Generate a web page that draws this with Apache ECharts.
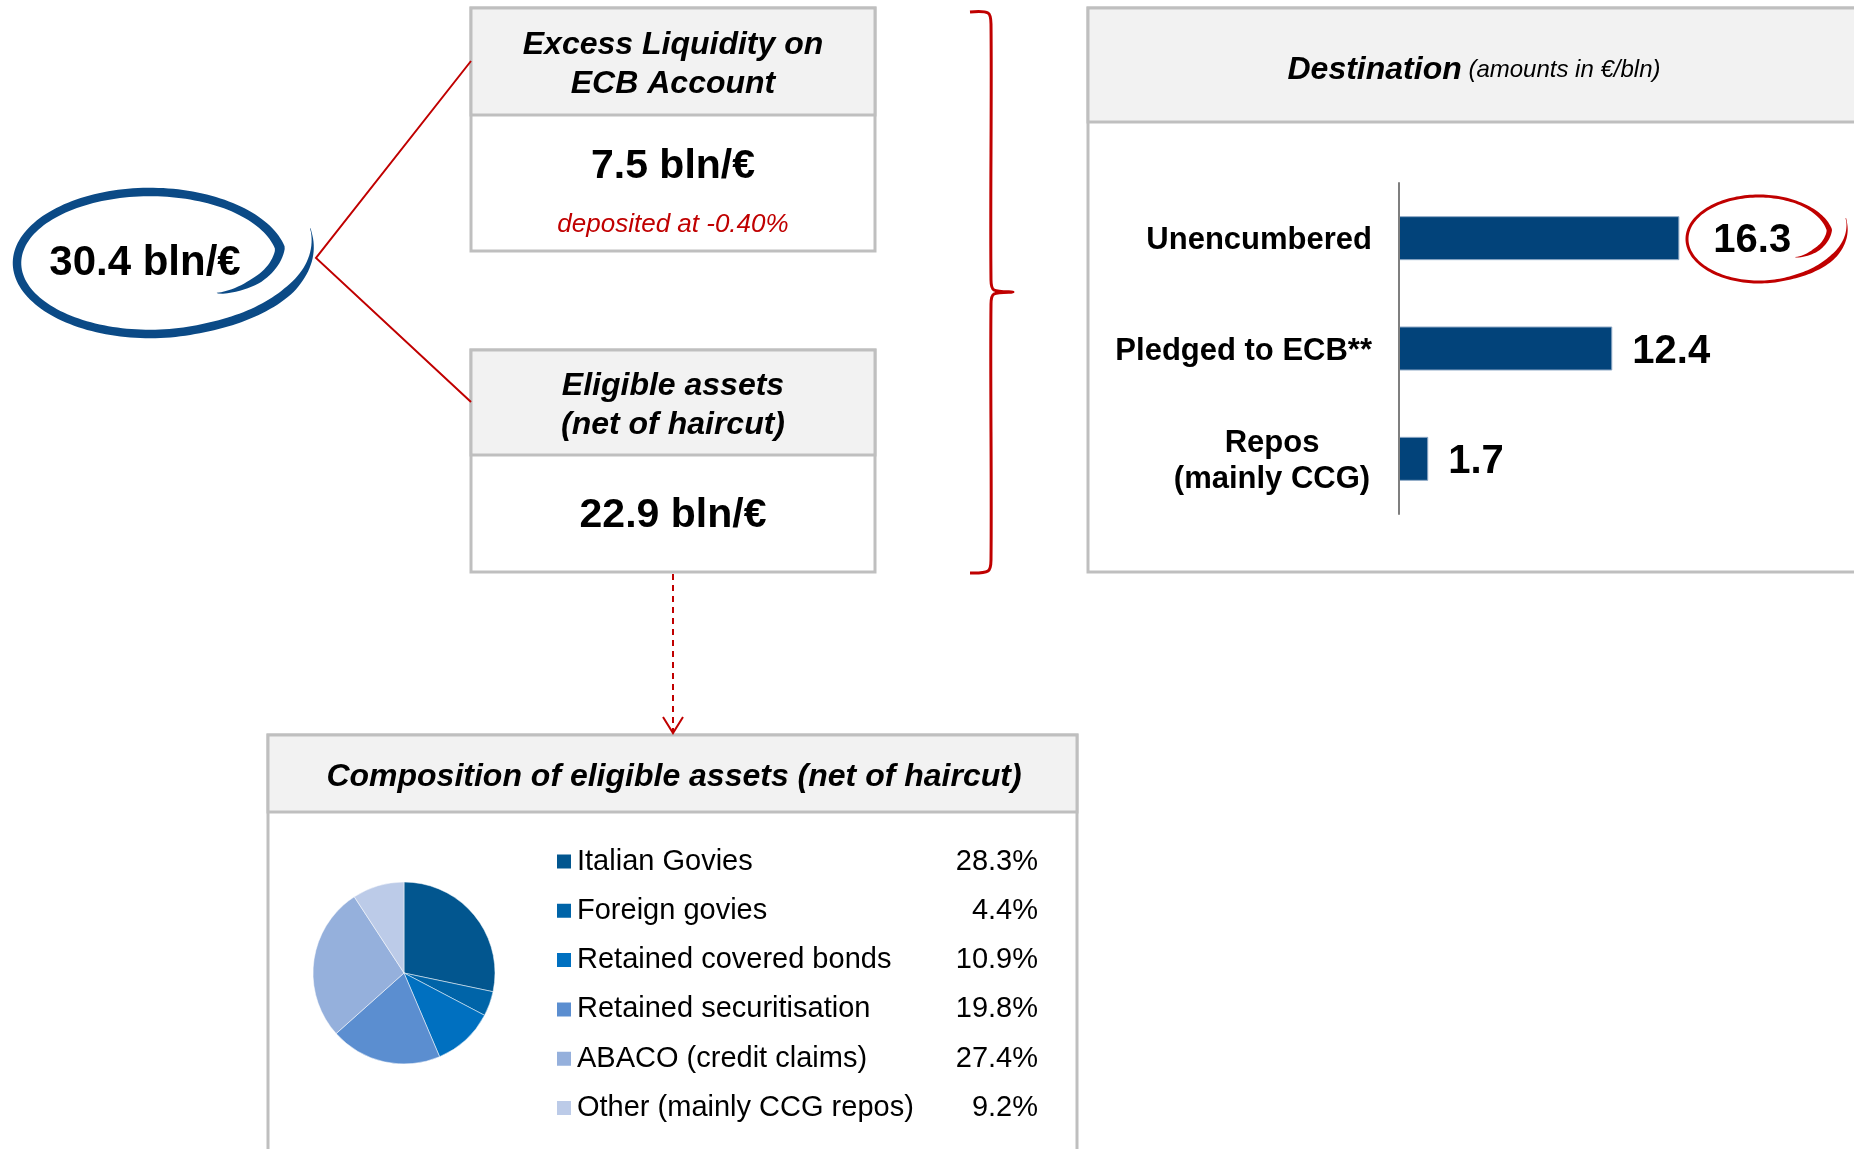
<!DOCTYPE html>
<html>
<head>
  <meta charset="utf-8">
  <title>Liquidity</title>
  <script src="https://cdn.jsdelivr.net/npm/echarts@6/dist/echarts.min.js"></script>
</head>
<body style="margin:0">
  <div id="main" style="width:1854px;height:1149px;"></div>
  <script type="text/javascript">
    // figures shown in the boxes
    var totalValue = 30.4;
    var excessValue = 7.5;
    var depositRate = '-0.40%';
    var eligibleValue = 22.9;

    // destination bars
    var destCategories = ['Unencumbered', 'Pledged to ECB**', 'Repos\n(mainly CCG)'];
    var destValues = [16.3, 12.4, 1.7];

    // composition pie
    var assetNames = ['Italian Govies', 'Foreign govies', 'Retained covered bonds',
      'Retained securitisation', 'ABACO (credit claims)', 'Other (mainly CCG repos)'];
    var assetShares = [28.3, 4.4, 10.9, 19.8, 27.4, 9.2];
    var assetColors = ['#02568F', '#0064A8', '#0070C0', '#5B8ED0', '#95B0DC', '#BCCBE8'];

    var FONT = 'Liberation Sans, Arial, sans-serif';
    var RED = '#C00000';
    var GREY = '#BFBFBF';

    var myChart = echarts.init(document.getElementById('main'));

    function box(x, y, w, h, headH) {
      return [
        { type: 'rect', z: 0, shape: { x: x, y: y, width: w, height: h },
          style: { fill: '#fff', stroke: GREY, lineWidth: 3 } },
        { type: 'rect', z: 0, shape: { x: x, y: y, width: w, height: headH },
          style: { fill: '#F2F2F2', stroke: GREY, lineWidth: 3 } }
      ];
    }

    function txt(x, y, text, size, weight, style, color, lh) {
      return { type: 'text', z: 10, style: {
        x: x, y: y, text: text, fontSize: size, fontWeight: weight, fontStyle: style,
        fontFamily: FONT, fill: color || '#000', align: 'center', verticalAlign: 'middle',
        lineHeight: lh || size
      } };
    }

    // brush-like ring: a hook inside, once round, then a tail outside
    function swirl(cx, cy, rx, ry, base, wmax, tailR, color) {
      var outer = [], inner = [];
      var th0 = 40, th1 = -382, n = 200;
      for (var k = 0; k <= n; k++) {
        var t = k / n;
        var th = th0 + (th1 - th0) * t;
        var r;
        if (th > -12) {
          r = 0.66 + 0.34 * Math.pow((40 - th) / 52, 0.8);
        } else if (th > -290) {
          r = 1;
        } else {
          r = 1 + (tailR - 1) * Math.pow((-290 - th) / 92, 1.6);
        }
        var hook = t < 0.12 ? 1 : (t < 0.22 ? 1 - (t - 0.12) / 0.1 : 0);
        var tail = t > 0.88 ? 1 : (t > 0.78 ? (t - 0.78) / 0.1 : 0);
        var w = base + (wmax - base) * Math.max(hook, tail);
        w *= Math.min(1, 0.15 + t / 0.06) * Math.min(1, (1 - t) / 0.1);
        w = Math.max(w, 0.6);
        var a = th * Math.PI / 180;
        var c = Math.cos(a), s = Math.sin(a);
        outer.push([cx + (r * rx + w / 2) * c, cy + (r * ry + w / 2) * s]);
        inner.push([cx + (r * rx - w / 2) * c, cy + (r * ry - w / 2) * s]);
      }
      return { type: 'polygon', z: 6, shape: { points: outer.concat(inner.reverse()) },
        style: { fill: color } };
    }

    var graphics = [];
    graphics = graphics.concat(box(471, 8, 404, 243, 107));
    graphics = graphics.concat(box(471, 350, 404, 222, 105));
    graphics = graphics.concat(box(1088, 8, 820, 564, 114));
    graphics = graphics.concat(box(268, 735, 809, 520, 77));

    graphics.push(txt(673, 65, 'Excess Liquidity on\nECB Account', 32, 'bold', 'italic', '#000', 39));
    graphics.push(txt(673, 167, excessValue.toFixed(1) + ' bln/€', 41, 'bold', 'normal'));
    graphics.push(txt(673, 225, 'deposited at ' + depositRate, 26, 'normal', 'italic', RED));
    graphics.push(txt(673, 406, 'Eligible assets\n(net of haircut)', 32, 'bold', 'italic', '#000', 39));
    graphics.push(txt(673, 516, eligibleValue.toFixed(1) + ' bln/€', 41, 'bold', 'normal'));
    graphics.push(txt(674, 777, 'Composition of eligible assets (net of haircut)', 32, 'bold', 'italic'));
    graphics.push(txt(145, 263, totalValue.toFixed(1) + ' bln/€', 42, 'bold', 'normal'));

    graphics.push({ type: 'text', z: 10, style: {
      x: 1474, y: 70, text: '{a|Destination}  {b|(amounts in €/bln)}',
      align: 'center', verticalAlign: 'middle',
      rich: {
        a: { fontSize: 32, fontWeight: 'bold', fontStyle: 'italic', fontFamily: FONT, fill: '#000' },
        b: { fontSize: 24, fontStyle: 'italic', fontFamily: FONT, fill: '#000' }
      }
    } });

    // connectors
    graphics.push({ type: 'polyline', z: 5, shape: { points: [[471, 61], [316, 258], [471, 402]] },
      style: { stroke: RED, lineWidth: 2, fill: null } });
    graphics.push({ type: 'line', z: 5, shape: { x1: 673, y1: 574, x2: 673, y2: 731 },
      style: { stroke: RED, lineWidth: 2, lineDash: [6, 5] } });
    graphics.push({ type: 'polyline', z: 5, shape: { points: [[663, 717], [673, 733], [683, 717]] },
      style: { stroke: RED, lineWidth: 2, fill: null } });

    // bracket
    graphics.push({ type: 'polyline', z: 5, shape: { smooth: 0.3, points: [
      [970, 12], [988, 13], [991, 24], [991, 280], [994, 290], [1013, 292],
      [994, 294], [991, 304], [991, 560], [988, 571], [970, 573]] },
      style: { stroke: RED, lineWidth: 3, fill: null } });

    graphics.push(swirl(150, 263, 133, 71, 8.5, 10, 1.3, '#0B4A86'));
    graphics.push(swirl(1759, 239, 72, 43, 3, 5.5, 1.3, RED));

    var barData = destValues.map(function (v, i) {
      return { value: v, label: { distance: i === 0 ? 34 : 20 } };
    });

    var pieData = assetNames.map(function (n, i) {
      return { name: n, value: assetShares[i], itemStyle: { color: assetColors[i] } };
    });

    var option = {
      animation: false,
      textStyle: { fontFamily: FONT },
      graphic: graphics,
      grid: { left: 1399, top: 183, width: 516, height: 331, containLabel: false, outerBoundsMode: 'none' },
      xAxis: { type: 'value', min: 0, max: 30, show: false },
      yAxis: {
        type: 'category',
        data: destCategories,
        inverse: true,
        z: 8,
        axisLine: { show: true, lineStyle: { color: '#7F7F7F', width: 2 } },
        axisTick: { show: false },
        axisLabel: {
          margin: 27, fontSize: 31, fontWeight: 'bold', color: '#000', fontFamily: FONT,
          padding: [5, 0, 0, 0],
          formatter: function (v) {
            if (v.indexOf('\n') < 0) return v;
            return v.split('\n').map(function (s) { return '{c|' + s + '}'; }).join('\n');
          },
          rich: {
            c: { width: 200, align: 'center', fontSize: 31, fontWeight: 'bold', lineHeight: 36,
              fontFamily: FONT, color: '#000' }
          }
        }
      },
      legend: {
        orient: 'vertical',
        left: 555,
        top: 847,
        padding: 0,
        icon: 'rect',
        itemWidth: 16,
        itemHeight: 16,
        itemGap: 20.3,
        selectedMode: false,
        data: assetNames,
        formatter: function (name) {
          var i = assetNames.indexOf(name);
          return '{n|' + name + '}{v|' + assetShares[i].toFixed(1) + '%}';
        },
        textStyle: {
          rich: {
            n: { width: 381, fontSize: 29, lineHeight: 34, color: '#000', fontFamily: FONT },
            v: { width: 80, align: 'right', fontSize: 29, lineHeight: 34, color: '#000', fontFamily: FONT }
          }
        }
      },
      series: [
        {
          type: 'bar',
          z: 7,
          data: barData,
          barWidth: 44,
          itemStyle: { color: '#02437A', borderColor: '#8FA9C6', borderWidth: 1 },
          label: { show: true, position: 'right', fontSize: 40, fontWeight: 'bold', color: '#000',
            fontFamily: FONT, offset: [0, 3] }
        },
        {
          type: 'pie',
          z: 7,
          center: [404, 973],
          radius: 91,
          startAngle: 90,
          clockwise: true,
          label: { show: false },
          labelLine: { show: false },
          itemStyle: { borderColor: '#ffffff', borderWidth: 0.5 },
          data: pieData
        }
      ]
    };

    myChart.setOption(option);
  </script>
</body>
</html>
